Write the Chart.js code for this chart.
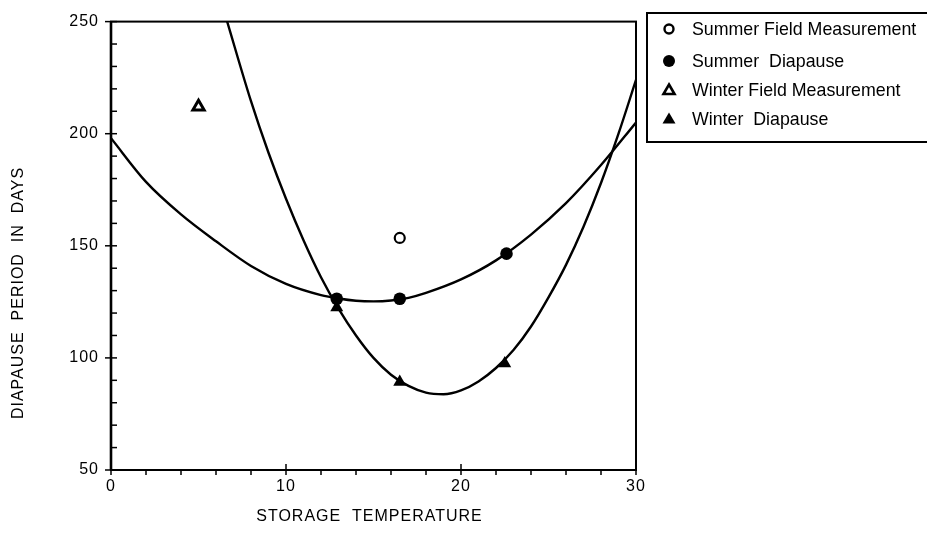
<!DOCTYPE html>
<html>
<head>
<meta charset="utf-8">
<title>Diapause period vs storage temperature</title>
<script src="https://cdn.jsdelivr.net/npm/chart.js@4.4.0/dist/chart.umd.min.js"></script>
<style>
  body { margin: 0; background: #fff; }
  #wrap { position: relative; width: 927px; height: 543px; overflow: hidden; }
  #legend {
    position: absolute; left: 646px; top: 12px; width: 300px; height: 131px;
    border: 2px solid #000; box-sizing: border-box;
    font: 17.8px "Liberation Sans", Arial, sans-serif; color: #000;
  }
  .item { position: absolute; left: 11px; height: 20px; display: flex; align-items: center; white-space: pre; }
  .item svg { width: 20px; height: 20px; margin-right: 13px; }
</style>
</head>
<body>
<div id="wrap">
  <canvas id="diapauseChart"></canvas>
  <div id="legend">
    <div class="item" style="top:5px"><svg viewBox="0 0 20 20"><circle cx="10" cy="10" r="4.5" fill="#fff" stroke="#000" stroke-width="2.4"/></svg>Summer Field Measurement</div>
    <div class="item" style="top:37px"><svg viewBox="0 0 20 20"><circle cx="10" cy="10" r="6" fill="#000"/></svg>Summer  Diapause</div>
    <div class="item" style="top:66px"><svg viewBox="0 0 20 20"><polygon points="10,4.5 15.5,14 4.5,14" fill="#fff" stroke="#000" stroke-width="2.6"/></svg>Winter Field Measurement</div>
    <div class="item" style="top:95px"><svg viewBox="0 0 20 20"><polygon points="10,3.5 16.5,14.5 3.5,14.5" fill="#000"/></svg>Winter  Diapause</div>
  </div>
</div>
<script>
// measured points
const summerFieldX = [16.5];
const summerFieldY = [153.5];
const summerDiapauseX = [12.9, 16.5, 22.6];
const summerDiapauseY = [126.4, 126.4, 146.5];
const winterFieldX = [5.0];
const winterFieldY = [212];
const winterDiapauseX = [12.9, 16.5, 22.5];
const winterDiapauseY = [122.5, 89.3, 97.5];

// fitted curves
const summerCurveX = [0, 2, 4, 6, 8, 10, 12, 13, 14, 15, 16, 17, 18, 20, 22, 24, 26, 28, 30];
const summerCurveY = [198, 178.5, 164, 152, 141, 133, 128, 126.5, 125.5, 125.2, 125.6, 126.8, 129, 135, 143.5, 155, 169, 186, 205];
const winterCurveX = [6.6, 8, 9, 10, 11, 12, 13, 14, 15, 16, 17, 18, 19, 20, 21, 22, 23, 24, 25, 26, 27, 28, 29, 30];
const winterCurveY = [251, 214.5, 191.5, 171, 152.5, 136, 122, 110, 100, 92.5, 87.5, 84.5, 83.8, 85.5, 89.5, 95.5, 103.5, 114, 127, 141.5, 158.5, 178, 200, 224];

const xTicks = [0, 10, 20, 30];
const yTicks = [50, 100, 150, 200, 250];
const xTitle = "STORAGE  TEMPERATURE";
const yTitle = "DIAPAUSE  PERIOD  IN  DAYS";

const pts = (xs, ys) => xs.map((x, i) => ({ x, y: ys[i] }));
const font = "'Liberation Sans', Arial, sans-serif";

// tick marks, plot box and axis titles
const frameAndTicks = {
  id: "frameAndTicks",
  beforeDraw(chart) {
    chart.ctx.letterSpacing = "1px";
  },
  afterDraw(chart) {
    const { ctx, chartArea: a, scales: { x, y } } = chart;
    ctx.save();
    ctx.strokeStyle = "#000";
    ctx.lineWidth = 1.5;
    for (let v = 50; v <= 250; v += 10) {
      const py = y.getPixelForValue(v);
      const major = v % 50 === 0;
      ctx.beginPath();
      ctx.moveTo(a.left - (major ? 6 : 0), py);
      ctx.lineTo(a.left + 6, py);
      ctx.stroke();
    }
    for (let v = 0; v <= 30; v += 2) {
      const px = x.getPixelForValue(v);
      const major = v % 10 === 0;
      ctx.beginPath();
      ctx.moveTo(px, a.bottom - (major ? 6 : 0));
      ctx.lineTo(px, a.bottom + 5);
      ctx.stroke();
    }
    ctx.lineWidth = 2;
    ctx.strokeRect(a.left, a.top, a.right - a.left, a.bottom - a.top);
    ctx.lineWidth = 2.6;
    ctx.beginPath();
    ctx.moveTo(a.left, a.top);
    ctx.lineTo(a.left, a.bottom);
    ctx.stroke();

    ctx.fillStyle = "#000";
    ctx.font = "16px " + font;
    ctx.letterSpacing = "1px";
    ctx.textAlign = "center";
    ctx.textBaseline = "middle";
    ctx.fillText(xTitle, (a.left + a.right) / 2 - 4, 517);
    ctx.translate(19, 293);
    ctx.rotate(-Math.PI / 2);
    ctx.fillText(yTitle, 0, 0);
    ctx.restore();
    ctx.letterSpacing = "0px";
  },
};

const ctx = document.getElementById("diapauseChart").getContext("2d");

new Chart(ctx, {
  type: "scatter",
  data: {
    datasets: [
      {
        label: "Summer Field Measurement",
        data: pts(summerFieldX, summerFieldY),
        pointStyle: "circle",
        pointRadius: 5,
        pointBackgroundColor: "#fff",
        pointBorderColor: "#000",
        pointBorderWidth: 2.2,
      },
      {
        label: "Summer Diapause",
        data: pts(summerDiapauseX, summerDiapauseY),
        pointStyle: "circle",
        pointRadius: 6.3,
        pointBackgroundColor: "#000",
        pointBorderColor: "#000",
        pointBorderWidth: 0,
      },
      {
        label: "Winter Field Measurement",
        data: pts(winterFieldX, winterFieldY),
        pointStyle: "triangle",
        pointRadius: 6.5,
        pointBackgroundColor: "#fff",
        pointBorderColor: "#000",
        pointBorderWidth: 3,
      },
      {
        label: "Winter Diapause",
        data: pts(winterDiapauseX, winterDiapauseY),
        pointStyle: "triangle",
        pointRadius: 7.5,
        pointBackgroundColor: "#000",
        pointBorderColor: "#000",
        pointBorderWidth: 0,
      },
      {
        label: "summer fit",
        data: pts(summerCurveX, summerCurveY),
        showLine: true,
        borderColor: "#000",
        borderWidth: 2.4,
        cubicInterpolationMode: "monotone",
        pointRadius: 0,
      },
      {
        label: "winter fit",
        data: pts(winterCurveX, winterCurveY),
        showLine: true,
        borderColor: "#000",
        borderWidth: 2.4,
        cubicInterpolationMode: "monotone",
        pointRadius: 0,
      },
    ],
  },
  options: {
    responsive: true,
    maintainAspectRatio: false,
    animation: false,
    layout: { padding: { top: 12, right: 291, bottom: 0, left: 0 } },
    plugins: {
      legend: { display: false },
      tooltip: { enabled: false },
    },
    scales: {
      x: {
        type: "linear",
        min: 0,
        max: 30,
        afterBuildTicks: (s) => { s.ticks = xTicks.map((v) => ({ value: v })); },
        afterFit: (s) => { s.height = 73; },
        grid: { display: false, drawTicks: false, tickLength: 0 },
        border: { display: false },
        ticks: { color: "#000", padding: 7, font: { family: font, size: 16 } },
      },
      y: {
        type: "linear",
        min: 50,
        max: 250,
        afterBuildTicks: (s) => { s.ticks = yTicks.map((v) => ({ value: v })); },
        afterFit: (s) => { s.width = 111; },
        grid: { display: false, drawTicks: false, tickLength: 0 },
        border: { display: false },
        ticks: { color: "#000", padding: 12, font: { family: font, size: 16 } },
      },
    },
  },
  plugins: [frameAndTicks],
});
</script>
</body>
</html>
